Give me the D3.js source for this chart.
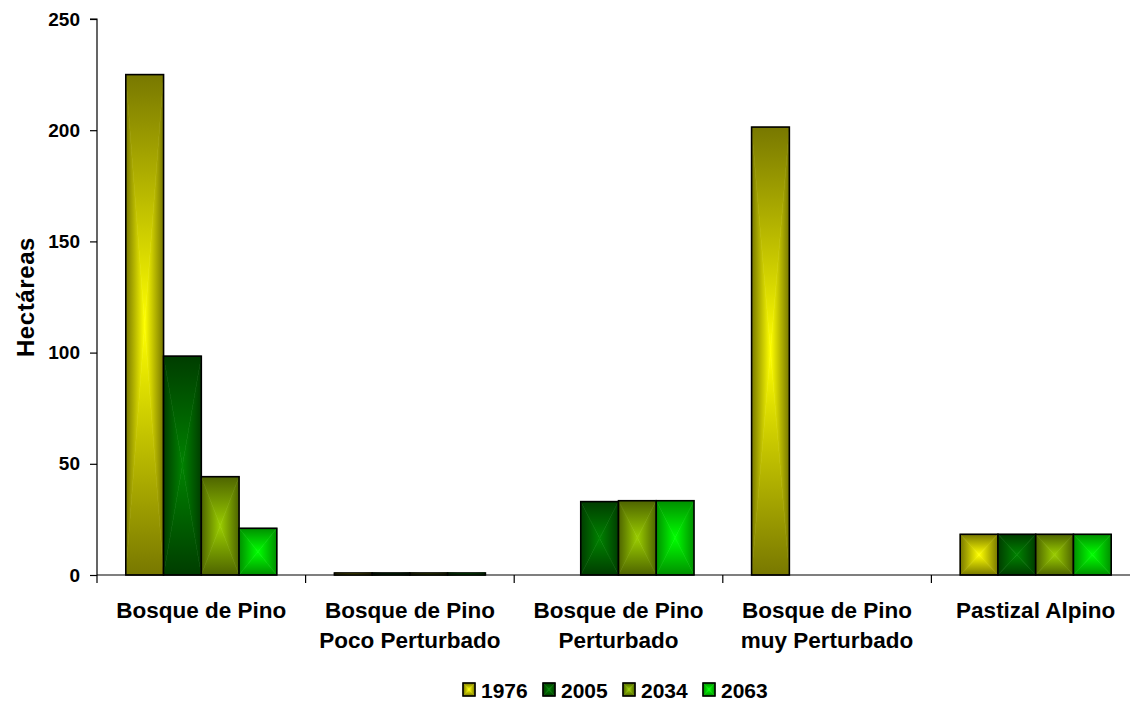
<!DOCTYPE html>
<html>
<head>
<meta charset="utf-8">
<script src="https://cdn.jsdelivr.net/npm/d3@7"></script>
<style>
  html, body { margin: 0; padding: 0; background: #fff; }
  svg { display: block; }
  text { font-family: "Liberation Sans", Arial, sans-serif; font-weight: bold; fill: #000; }
</style>
</head>
<body>
<svg id="chart" width="1130" height="701"></svg>
<script>
const categories = [
  ["Bosque de Pino"],
  ["Bosque de Pino", "Poco Perturbado"],
  ["Bosque de Pino", "Perturbado"],
  ["Bosque de Pino", "muy Perturbado"],
  ["Pastizal Alpino"]
];
const seriesNames = ["1976", "2005", "2034", "2063"];
const values1976 = [225.0, 0.9, 0, 201.4, 18.3];
const values2005 = [98.4, 0.9, 33.0, 0, 18.3];
const values2034 = [44.2, 0.9, 33.4, 0, 18.3];
const values2063 = [21.0, 0.9, 33.4, 0, 18.3];
const yTicks = [0, 50, 100, 150, 200, 250];
const yTitle = "Hectáreas";
const seriesEdge = ["#787800", "#003d00", "#4e6400", "#009000"];
const seriesCenter = ["#ffff00", "#008200", "#9acd00", "#00ff00"];

const seriesValues = [values1976, values2005, values2034, values2063];
const svg = d3.select("#chart");

const plotLeft = 97, plotTop = 19, plotBottom = 575, catWidth = 208.6;
const y = d3.scaleLinear().domain([0, 250]).range([plotBottom, plotTop]);
const x = d3.scaleBand().domain(d3.range(categories.length))
  .range([plotLeft, plotLeft + catWidth * categories.length]).padding(0);
const groupW = 151;
const xs = d3.scaleBand().domain(seriesNames)
  .range([(x.bandwidth() - groupW) / 2, (x.bandwidth() + groupW) / 2]).padding(0);

// gradients
const defs = svg.append("defs");
const dirs = {
  top:    {x1: 0, y1: 0, x2: 0, y2: 1},
  bottom: {x1: 0, y1: 1, x2: 0, y2: 0},
  left:   {x1: 0, y1: 0, x2: 1, y2: 0},
  right:  {x1: 1, y1: 0, x2: 0, y2: 0}
};
seriesNames.forEach((s, i) => {
  Object.entries(dirs).forEach(([k, d]) => {
    const g = defs.append("linearGradient").attr("id", `g${i}-${k}`)
      .attr("x1", d.x1).attr("y1", d.y1).attr("x2", d.x2).attr("y2", d.y2);
    g.append("stop").attr("offset", 0).attr("stop-color", seriesEdge[i]);
    g.append("stop").attr("offset", 1).attr("stop-color", seriesCenter[i]);
  });
});

function drawGradRect(parent, i, x0, y0, w, h) {
  const g = parent.append("g");
  const cx = x0 + w / 2, cy = y0 + h / 2;
  const x1 = x0 + w, y1 = y0 + h;
  const polys = {
    top: [[x0, y0], [x1, y0], [cx, cy]],
    bottom: [[x0, y1], [x1, y1], [cx, cy]],
    left: [[x0, y0], [x0, y1], [cx, cy]],
    right: [[x1, y0], [x1, y1], [cx, cy]]
  };
  Object.entries(polys).forEach(([k, p]) => {
    g.append("polygon").attr("points", p.map(q => q.join(",")).join(" "))
      .attr("fill", `url(#g${i}-${k})`).attr("stroke", `url(#g${i}-${k})`).attr("stroke-width", 0.6);
  });
  g.append("rect").attr("x", x0).attr("y", y0).attr("width", w).attr("height", h)
    .attr("fill", "none").attr("stroke", "#000").attr("stroke-width", 1.6);
  return g;
}

// bars
const barsG = svg.append("g");
categories.forEach((c, ci) => {
  seriesNames.forEach((s, si) => {
    const v = seriesValues[si][ci];
    if (v <= 0) return;
    const bx = x(ci) + xs(s);
    const by = y(v);
    drawGradRect(barsG, si, bx, by, xs.bandwidth(), y(0) - by);
  });
});

// y axis
const yAxis = d3.axisLeft(y).tickValues(yTicks).tickSize(7).tickPadding(10);
const ya = svg.append("g").attr("transform", `translate(${plotLeft},0)`).call(yAxis);
ya.select(".domain").attr("stroke", "#000").attr("stroke-width", 1.2).attr("d", `M-7,${plotTop}H0V${plotBottom + 8}`);
ya.selectAll(".tick line").attr("stroke", "#000").attr("stroke-width", 1.2);
ya.selectAll(".tick text").style("font-size", "19px").style("font-family", "Liberation Sans, Arial, sans-serif").style("font-weight", "bold");

// x axis
const xa = svg.append("g");
xa.append("line").attr("x1", plotLeft).attr("x2", 1130).attr("y1", plotBottom).attr("y2", plotBottom)
  .attr("stroke", "#000").attr("stroke-width", 1.2);
d3.range(1, categories.length).forEach(i => {
  xa.append("line").attr("x1", x(i)).attr("x2", x(i)).attr("y1", plotBottom).attr("y2", plotBottom + 8)
    .attr("stroke", "#000").attr("stroke-width", 1.2);
});
categories.forEach((c, ci) => {
  const t = xa.append("text").attr("text-anchor", "middle")
    .attr("x", x(ci) + x.bandwidth() / 2).attr("y", 618).style("font-size", "22.5px");
  c.forEach((line, li) => {
    t.append("tspan").attr("x", x(ci) + x.bandwidth() / 2).attr("dy", li === 0 ? 0 : 30).text(line);
  });
});

// y title
svg.append("text").attr("transform", "translate(34,297) rotate(-90)")
  .attr("text-anchor", "middle").style("font-size", "24px").style("letter-spacing", "0.6px").text(yTitle);

// legend
const leg = svg.append("g");
seriesNames.forEach((s, i) => {
  const lx = 463 + i * 80;
  drawGradRect(leg, i, lx, 683, 12, 13);
  leg.append("text").attr("x", lx + 18).attr("y", 698).style("font-size", "21px").text(s);
});
</script>
</body>
</html>
